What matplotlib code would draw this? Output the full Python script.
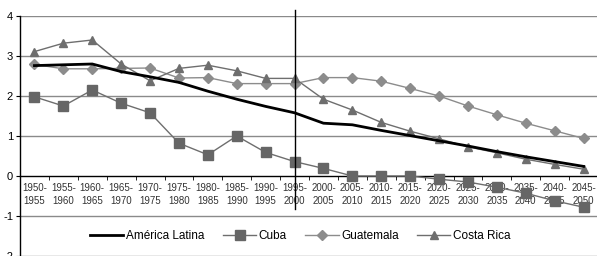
import matplotlib

matplotlib.use("Agg")
import matplotlib.pyplot as plt

periods = [
    "1950-\n1955", "1955-\n1960", "1960-\n1965", "1965-\n1970", "1970-\n1975",
    "1975-\n1980", "1980-\n1985", "1985-\n1990", "1990-\n1995", "1995-\n2000",
    "2000-\n2005", "2005-\n2010", "2010-\n2015", "2015-\n2020", "2020-\n2025",
    "2025-\n2030", "2030-\n2035", "2035-\n2040", "2040-\n2045", "2045-\n2050",
]
america_latina = [2.76, 2.78, 2.80, 2.61, 2.48, 2.34, 2.12, 1.92, 1.74, 1.58,
                  1.32, 1.28, 1.14, 1.01, 0.88, 0.75, 0.61, 0.48, 0.36, 0.24]
cuba = [1.98, 1.75, 2.15, 1.82, 1.58, 0.82, 0.53, 1.00, 0.59, 0.36,
        0.19, 0.00, 0.00, 0.00, -0.08, -0.15, -0.28, -0.43, -0.62, -0.78]
guatemala = [2.79, 2.68, 2.68, 2.69, 2.70, 2.45, 2.46, 2.31, 2.31, 2.31,
             2.46, 2.46, 2.37, 2.19, 2.00, 1.75, 1.53, 1.32, 1.13, 0.94]
costa_rica = [3.11, 3.32, 3.40, 2.80, 2.38, 2.69, 2.77, 2.63, 2.44, 2.44,
              1.92, 1.65, 1.34, 1.12, 0.93, 0.73, 0.58, 0.42, 0.29, 0.17]

plt.rcParams["font.family"] = ["Liberation Sans", "DejaVu Sans"]

fig = plt.figure(figsize=(5.97, 2.56), dpi=100)
ax = fig.add_axes([20 / 597, 0.0, 578 / 597, 240 / 256])

x = list(range(len(periods)))

for y in [-2, -1, 1, 2, 3, 4]:
    ax.axhline(y, color="#8a8a8a", linewidth=1.0, zorder=1)

ax.plot(x, america_latina, color="black", linewidth=2.0, label="América Latina", zorder=4)
ax.plot(x, cuba, color="#6e6e6e", linewidth=1.0, marker="s", markersize=6.5,
        markerfacecolor="#666666", markeredgecolor="#666666", label="Cuba", zorder=3)
ax.plot(x, guatemala, color="#8c8c8c", linewidth=1.0, marker="D", markersize=5,
        markerfacecolor="#8c8c8c", markeredgecolor="#8c8c8c", label="Guatemala", zorder=3)
ax.plot(x, costa_rica, color="#6e6e6e", linewidth=1.0, marker="^", markersize=5.5,
        markerfacecolor="#6e6e6e", markeredgecolor="#6e6e6e", label="Costa Rica", zorder=3)

ax.plot([9, 9], [-0.82, 4.15], color="black", linewidth=1.0, clip_on=False, zorder=5)

ax.set_xlim(-0.5, len(periods) - 0.5)
ax.set_ylim(-2, 4)
ax.set_yticks([-2, -1, 0, 1, 2, 3, 4])
ax.set_yticklabels(["-2", "-1", "0", "1", "2", "3", "4"], fontsize=8)
ax.tick_params(axis="y", direction="out", length=3, pad=2, color="black")

ax.spines["top"].set_visible(False)
ax.spines["right"].set_visible(False)
ax.spines["bottom"].set_position(("data", 0))
ax.spines["left"].set_linewidth(1.0)
ax.spines["bottom"].set_linewidth(1.0)

ax.set_xticks(x)
ax.set_xticklabels(periods, fontsize=7, color="#333333", linespacing=1.4)
ax.set_xticks([i - 0.5 for i in range(len(periods) + 1)], minor=True)
ax.tick_params(axis="x", which="major", length=0, pad=5)
ax.tick_params(axis="x", which="minor", length=3, direction="out")

leg = ax.legend(loc="center", bbox_to_anchor=(0.485, 0.5 / 6), bbox_transform=ax.transAxes,
                ncol=4, frameon=True, fontsize=8.5, handlelength=2.8, columnspacing=1.6,
                handletextpad=0.2, borderpad=0.3)
leg.get_frame().set_facecolor("white")
leg.get_frame().set_edgecolor("white")
leg.set_zorder(6)

fig.savefig("out.png", dpi=100)
